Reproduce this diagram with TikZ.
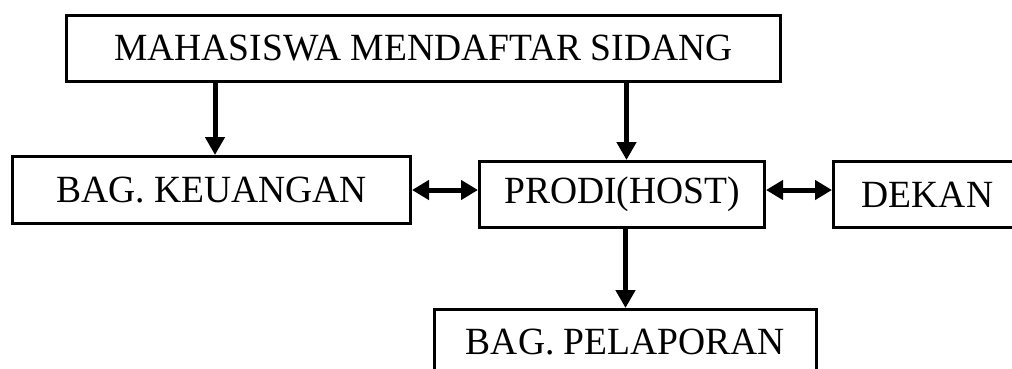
\documentclass[tikz,border=0pt]{standalone}
\usepackage{fontspec}
\setmainfont{Liberation Serif}
\newfontfamily\boxfont[FakeStretch=0.975]{Liberation Serif}
\usetikzlibrary{arrows.meta}
\begin{document}
\begin{tikzpicture}[x=1pt,y=-1pt,
  box/.style={draw=black, line width=3pt, inner sep=0pt, fill=white,
    font=\boxfont\fontsize{38.5}{42}\selectfont},
  flow/.style={line width=5pt, -{Triangle[length=18pt,width=19pt]}},
  both/.style={line width=5pt, {Triangle[length=17pt,width=19pt]}-{Triangle[length=17pt,width=19pt]}}]
\useasboundingbox (0,0) rectangle (1012,368);
\clip (0,0) rectangle (1012,368);
\fill[white] (0,0) rectangle (1012,368);
\node[box, minimum width=714pt, minimum height=66pt] (mhs) at (423.5,48.5) {MAHASISWA MENDAFTAR SIDANG};
\node[box, minimum width=398pt, minimum height=67pt] (keu) at (211.5,190) {BAG. KEUANGAN};
\node[box, minimum width=285pt, minimum height=66pt] (prodi) at (622,194.5) {PRODI(HOST)};
\node[box, minimum width=188pt, minimum height=66pt] (dekan) at (927.5,194.5) {DEKAN};
\node[box, minimum width=382pt, minimum height=66pt] (pel) at (625.5,342.5) {BAG. PELAPORAN};
\draw[flow] ([xshift=3.5pt]keu.north |- mhs.south) -- ([xshift=3.5pt]keu.north);
\draw[flow] ([xshift=4.5pt]prodi.north |- mhs.south) -- ([xshift=4.5pt]prodi.north);
\draw[flow] (pel.north |- prodi.south) -- (pel.north);
\draw[both] (keu.east) -- (keu.east -| prodi.west);
\draw[both] (prodi.east |- keu.east) -- (dekan.west |- keu.east);
\end{tikzpicture}
\end{document}
